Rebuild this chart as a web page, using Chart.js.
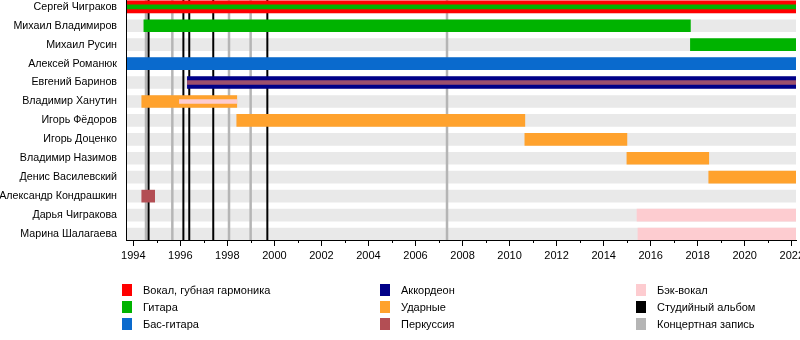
<!DOCTYPE html>
<html>
<head>
<meta charset="utf-8">
<script src="https://cdn.jsdelivr.net/npm/chart.js@4/dist/chart.umd.min.js"></script>
<style>
  html, body { margin: 0; padding: 0; background: #fff; }
  #wrap { position: relative; width: 800px; height: 340px; }
  #c { position: absolute; left: 0; top: 0; }
  .lg { position: absolute; font: 11px "Liberation Sans", Arial, sans-serif; color: #000; white-space: nowrap; }
  .lg i { position: absolute; left: 0; top: 0; width: 10px; height: 12px; }
  .lg span { position: absolute; left: 21px; top: -1px; line-height: 14px; }
</style>
</head>
<body>
<div id="wrap">
  <canvas id="c" width="800" height="340"></canvas>
</div>
<script>
// Line-up of Чиж & Co, years as decimal dates
const START = 1993.69;
const END = 2022.18;

const members = [
  'Сергей Чиграков', 'Михаил Владимиров', 'Михаил Русин', 'Алексей Романюк',
  'Евгений Баринов', 'Владимир Ханутин', 'Игорь Фёдоров', 'Игорь Доценко',
  'Владимир Назимов', 'Денис Василевский', 'Александр Кондрашкин',
  'Дарья Чигракова', 'Марина Шалагаева'
];

// [row, from, to]
const vocalSpans      = [[0, START, END]];
const guitarSpans     = [[1, 1994.45, 2017.69], [2, 2017.69, END]];
const bassSpans       = [[3, START, END]];
const accordionSpans  = [[4, 1996.30, END]];
const drumSpans       = [[5, 1994.36, 1998.40], [6, 1998.40, 2010.65], [7, 2010.65, 2014.99],
                         [8, 2014.99, 2018.47], [9, 2018.47, END]];
const percussionSpans = [[10, 1994.36, 1994.91]];
const backingSpans    = [[11, 2015.42, END], [12, 2015.46, END]];

// second roles, drawn as a thin stripe inside the main bar
const guitarStripe     = [[0, START, END]];
const percussionStripe = [[4, 1996.30, END]];
const backingStripe    = [[5, 1995.96, 1998.40]];

const studioAlbums = [1994.65, 1996.13, 1996.38, 1997.40, 1999.70];
const liveAlbums   = [1994.54, 1995.66, 1998.07, 1998.99, 2007.34];

const legendLabels = [
  'Вокал, губная гармоника', 'Гитара', 'Бас-гитара',
  'Аккордеон', 'Ударные', 'Перкуссия',
  'Бэк-вокал', 'Студийный альбом', 'Концертная запись'
];

const COLORS = {
  vocal: '#ff0000', guitar: '#00b300', bass: '#0a6acd', accordion: '#000088',
  drums: '#ffa22d', percussion: '#b34e54', backing: '#fdccd0',
  studio: '#000000', live: '#b5b5b5', band: '#e9e9e9'
};
const legendColors = [
  COLORS.vocal, COLORS.guitar, COLORS.bass,
  COLORS.accordion, COLORS.drums, COLORS.percussion,
  COLORS.backing, COLORS.studio, COLORS.live
];

const toPoints = spans => spans.map(([row, a, b]) => ({ x: [a, b], y: row }));
const bar = (label, spans, color, thick, order) => ({
  label, data: toPoints(spans), backgroundColor: color, borderWidth: 0,
  barThickness: thick, grouped: false, order
});

const bandSpans = members.map((_, i) => [i, START, END]);

const datasets = [
  bar('band', bandSpans, COLORS.band, 12, 10),
  bar('Вокал', vocalSpans, COLORS.vocal, 12, 5),
  bar('Гитара', guitarSpans, COLORS.guitar, 12, 5),
  bar('Бас-гитара', bassSpans, COLORS.bass, 12, 5),
  bar('Аккордеон', accordionSpans, COLORS.accordion, 12, 5),
  bar('Ударные', drumSpans, COLORS.drums, 12, 5),
  bar('Перкуссия', percussionSpans, COLORS.percussion, 12, 5),
  bar('Бэк-вокал', backingSpans, COLORS.backing, 12, 5),
  bar('Гитара 2', guitarStripe, COLORS.guitar, 4, 1),
  bar('Перкуссия 2', percussionStripe, '#9c4f6c', 4, 1),
  bar('Бэк-вокал 2', backingStripe, COLORS.backing, 4, 1)
];

// album release markers, painted right after the background bands
const releaseLines = {
  id: 'releaseLines',
  afterDatasetDraw(chart, args) {
    if (args.meta.label !== 'band') return;
    const { ctx, chartArea: ca, scales: { x } } = chart;
    ctx.save();
    const draw = (years, color, w) => {
      ctx.strokeStyle = color; ctx.lineWidth = w;
      years.forEach(yr => {
        const px = x.getPixelForValue(yr);
        ctx.beginPath(); ctx.moveTo(px, ca.top); ctx.lineTo(px, ca.bottom); ctx.stroke();
      });
    };
    draw(liveAlbums, COLORS.live, 2.5);
    draw(studioAlbums, COLORS.studio, 2);
    ctx.restore();
  },
  // short marks for odd years
  afterDraw(chart) {
    const { ctx, chartArea: ca, scales: { x } } = chart;
    ctx.save();
    ctx.strokeStyle = '#000'; ctx.lineWidth = 1;
    x.ticks.forEach(t => {
      if (Math.round(t.value) % 2 === 0) return;
      const px = Math.round(x.getPixelForValue(t.value)) + 0.5;
      ctx.beginPath(); ctx.moveTo(px, ca.bottom); ctx.lineTo(px, ca.bottom + 3); ctx.stroke();
    });
    ctx.restore();
  }
};

const FONT = { family: '"Liberation Sans", Arial, sans-serif', size: 11 };
const NAME_FONT = { family: '"Liberation Sans", Arial, sans-serif', size: 10.7 };
const isEven = v => Math.round(v) % 2 === 0;

new Chart(document.getElementById('c'), {
  type: 'bar',
  data: { datasets },
  plugins: [releaseLines],
  options: {
    indexAxis: 'y',
    responsive: false,
    animation: false,
    layout: { padding: { left: 0, right: 4, top: 0, bottom: 0 } },
    plugins: { legend: { display: false }, tooltip: { enabled: false } },
    scales: {
      x: {
        type: 'linear', position: 'bottom',
        min: START, max: END,
        grid: { drawOnChartArea: false, tickLength: 6,
                tickColor: c => (c.tick && isEven(c.tick.value) ? '#000' : 'rgba(0,0,0,0)') },
        border: { display: true, color: '#000', width: 1, z: 1 },
        ticks: {
          stepSize: 1, includeBounds: false, autoSkip: false, maxRotation: 0,
          padding: 3, color: '#000', font: FONT,
          callback: v => (isEven(v) ? String(Math.round(v)) : '')
        },
        afterFit(s) { s.height = 100; s.paddingLeft = 0; s.paddingRight = 0; }
      },
      y: {
        type: 'linear', reverse: true, offset: false,
        min: -0.359, max: 12.317,
        grid: { display: false, drawTicks: false },
        border: { display: true, color: '#000', width: 1, z: 1 },
        afterBuildTicks(s) { s.ticks = members.map((_, i) => ({ value: i })); },
        ticks: { padding: 9, color: '#000', font: NAME_FONT, autoSkip: false,
                 callback: v => members[v] },
        afterFit(s) { s.width = 126; s.paddingTop = 0; s.paddingBottom = 0; }
      }
    }
  }
});

// legend in three columns
const wrap = document.getElementById('wrap');
const colX = [122, 380, 636];
const rowY = [284, 301, 318];
legendLabels.forEach((text, i) => {
  const d = document.createElement('div');
  d.className = 'lg';
  d.style.left = colX[Math.floor(i / 3)] + 'px';
  d.style.top = rowY[i % 3] + 'px';
  const sw = document.createElement('i');
  sw.style.background = legendColors[i];
  const t = document.createElement('span');
  t.textContent = text;
  d.appendChild(sw); d.appendChild(t);
  wrap.appendChild(d);
});
</script>
</body>
</html>
